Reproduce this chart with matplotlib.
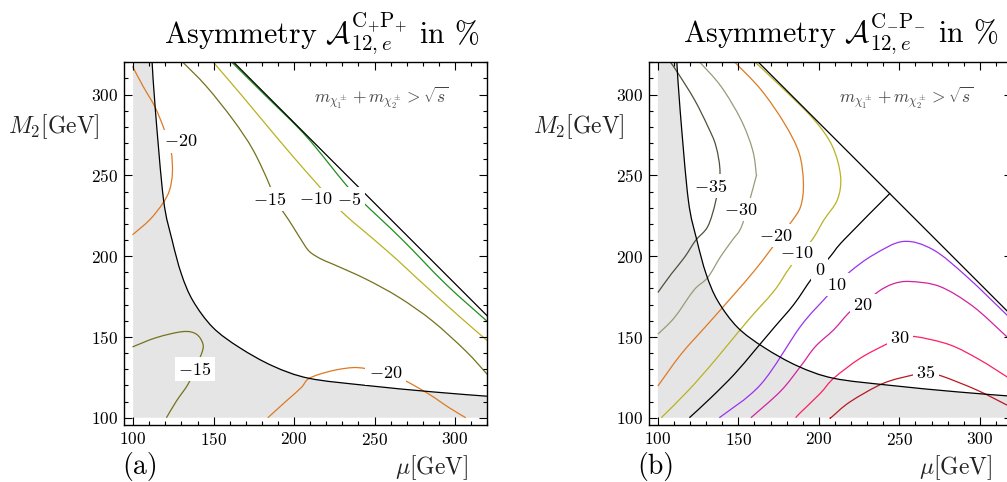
import matplotlib
matplotlib.use("Agg")
import matplotlib.pyplot as plt
from matplotlib.path import Path
from matplotlib.patches import PathPatch
import numpy as np

plt.rcParams['mathtext.fontset'] = 'cm'
plt.rcParams['font.family'] = 'serif'
plt.rcParams['font.serif'] = ['cmr10', 'DejaVu Serif']
plt.rcParams['axes.formatter.use_mathtext'] = True

# kinematic limit m_chi1 (edge of the grey region), same in both panels
kin_mu = [111.8, 113.8, 118.9, 124.2, 130.0, 137.2, 149.6, 166.1, 186.8, 209.2, 244.6, 285.9, 320.0]
kin_m2 = [320.0, 290.7, 234.9, 210.0, 188.9, 172.3, 155.8, 143.4, 132.0, 124.4, 120.0, 116.0, 113.3]
# m_chi1 + m_chi2 = sqrt(s) line
ss_mu = [162.0, 320.0]
ss_m2 = [320.5, 163.0]

# panel (a): contours of A^{C+P+}
a_m20_hi_mu = [99.6, 106.2, 113.4, 118.6, 121.5, 123.8, 124.4, 122.7, 118.6, 110.3, 99.6]
a_m20_hi_m2 = [317.5, 305.1, 292.7, 280.4, 272.0, 263.9, 251.5, 241.1, 232.9, 222.5, 213.2]
a_m15_lo_mu = [99.6, 114.5, 131.0, 139.3, 143.4, 142.4, 138.2, 134.1, 126.9, 120.7]
a_m15_lo_m2 = [143.8, 149.6, 153.3, 151.7, 145.5, 139.3, 130.0, 120.7, 110.3, 100.0]
a_m20_lo_mu = [183.7, 195.1, 204.4, 208.5, 215.7, 226.1, 236.4, 244.6, 257.0, 268.4, 283.9, 296.3, 306.6]
a_m20_lo_m2 = [100.0, 110.3, 118.6, 123.8, 126.9, 129.6, 131.0, 130.4, 127.5, 123.2, 114.5, 106.2, 100.0]
a_m15_hi_mu = [130.6, 145.5, 162.0, 174.4, 184.7, 187.0, 193.0, 199.2, 204.4, 209.5, 216.8, 224.0, 244.6, 265.3, 285.9, 306.6, 320.0]
a_m15_hi_m2 = [320.3, 305.1, 284.5, 265.9, 244.2, 235.3, 227.7, 218.4, 210.1, 202.9, 198.2, 195.1, 185.8, 174.4, 159.9, 141.3, 126.8]
a_m10_mu = [149.6, 166.1, 182.6, 199.2, 214.7, 229.8, 249.8, 264.3, 275.6, 302.5, 320.0]
a_m10_m2 = [320.3, 301.1, 281.4, 261.8, 244.2, 227.3, 210.1, 197.5, 187.0, 162.8, 147.7]
a_m5_mu = [161.0, 182.6, 207.5, 232.2, 242.2, 267.3, 294.2, 320.0]
a_m5_m2 = [320.3, 299.0, 274.2, 244.2, 233.9, 210.1, 182.7, 159.6]

a_lab_val = [-20, -15, -20, -15, -10, -5]
a_lab_mu = [129.5, 138.2, 256.7, 184.7, 213.7, 234.3]
a_lab_m2 = [271.0, 130.0, 127.5, 235.3, 235.3, 235.3]

# panel (b): contours of A^{C-P-}
b_m35_mu = [107.6, 112.4, 122.7, 131.0, 136.1, 138.6, 135.9, 131.0, 123.5, 116.5, 108.3, 100.0]
b_m35_m2 = [320.3, 313.4, 296.9, 280.4, 268.0, 251.5, 233.9, 218.4, 209.8, 199.2, 188.9, 177.5]
b_m30_mu = [125.8, 139.2, 151.6, 158.8, 161.0, 160.5, 152.4, 146.4, 139.0, 131.0, 122.5, 110.3, 100.0]
b_m30_m2 = [320.3, 305.1, 284.5, 265.9, 251.5, 247.3, 219.4, 210.1, 199.8, 186.8, 179.1, 162.0, 151.7]
b_m20_mu = [147.5, 164.0, 178.4, 187.7, 190.4, 188.7, 182.4, 170.0, 159.9, 147.5, 131.0, 114.4, 100.0]
b_m20_m2 = [320.3, 303.1, 282.5, 263.9, 245.3, 230.8, 220.5, 203.9, 190.9, 176.5, 157.9, 139.3, 119.6]
b_m10_mu = [160.2, 178.4, 197.0, 208.4, 213.5, 211.5, 203.2, 195.8, 182.4, 172.2, 155.7, 135.1, 118.6, 102.1]
b_m10_m2 = [320.3, 303.1, 284.5, 268.0, 249.4, 234.9, 222.5, 210.1, 193.6, 178.5, 159.9, 135.1, 116.5, 100.0]
b_0_mu = [244.3, 215.6, 207.1, 195.8, 184.6, 172.2, 159.9, 147.5, 133.0, 119.6]
b_0_m2 = [239.0, 210.1, 199.8, 186.4, 170.3, 155.8, 141.3, 126.9, 112.4, 100.0]
b_10_mu = [138.2, 164.0, 188.5, 204.0, 211.3, 219.5, 233.9, 252.5, 271.1, 291.8, 316.7, 320.0]
b_10_m2 = [100.0, 120.7, 156.4, 174.0, 182.2, 190.5, 200.8, 209.1, 203.9, 187.4, 163.7, 160.5]
b_20_mu = [157.8, 176.3, 188.5, 197.8, 209.2, 219.5, 227.4, 237.0, 246.3, 256.7, 275.2, 295.9, 316.7, 320.0]
b_20_m2 = [100.0, 116.5, 131.6, 144.0, 154.4, 165.7, 169.8, 178.1, 182.9, 184.3, 181.2, 168.8, 150.2, 147.5]
b_30_mu = [185.6, 188.5, 200.9, 209.2, 225.7, 243.2, 250.5, 259.8, 281.4, 300.0, 316.7, 320.0]
b_30_m2 = [100.0, 103.1, 115.1, 124.4, 136.8, 146.1, 149.2, 150.2, 145.1, 135.8, 125.4, 123.4]
b_35_mu = [207.3, 208.2, 219.5, 240.1, 258.7, 266.6, 276.3, 298.0, 316.7, 320.0]
b_35_m2 = [100.0, 100.6, 109.9, 121.3, 126.5, 127.9, 125.8, 117.2, 107.9, 106.3]

b_lab_val = [-35, -30, -20, -10, 0, 10, 20, 30, 35]
b_lab_mu = [132.8, 151.4, 173.1, 186.5, 200.6, 211.3, 227.4, 250.5, 266.6]
b_lab_m2 = [243.2, 228.7, 212.6, 201.9, 191.5, 182.2, 169.8, 149.2, 127.9]

col = {-35: '#4f4f3c', -30: '#9a9a78', -20: '#dd7a22', -15: '#74721c', -10: '#b9b222',
       -5: '#1c901c', 0: '#000000', 10: '#9b32ee', 20: '#d2229e', 30: '#fb2062', 35: '#b81820'}


def smooth_path(mu, m2):
    # Catmull-Rom through the read points, written as cubic Bezier segments
    p = np.column_stack([mu, m2])
    verts = [p[0]]
    codes = [Path.MOVETO]
    n = len(p)
    for i in range(n - 1):
        p0 = p[max(i - 1, 0)]
        p3 = p[min(i + 2, n - 1)]
        c1 = p[i] + (p[i + 1] - p0) / 6.0
        c2 = p[i + 1] - (p3 - p[i]) / 6.0
        verts += [c1, c2, p[i + 1]]
        codes += [Path.CURVE4] * 3
    return Path(verts, codes)


def setup_axes(ax):
    ax.set_xlim(94.5, 320)
    ax.set_ylim(95.5, 320)
    ax.set_xticks(np.arange(100, 301, 50))
    ax.set_yticks(np.arange(100, 301, 50))
    ax.set_xticks(np.arange(100, 321, 10), minor=True)
    ax.set_yticks(np.arange(100, 321, 10), minor=True)
    ax.tick_params(which='both', direction='in', top=True, right=True, labelsize=12.5, width=0.8)
    ax.tick_params(which='major', length=5.5, pad=4)
    ax.tick_params(which='minor', length=3)
    for s in ax.spines.values():
        s.set_linewidth(1.0)
    # grey excluded region
    ax.fill(np.r_[100, 100, kin_mu, 320], np.r_[100, 320, kin_m2, 100], color='#e5e5e5', lw=0, zorder=0)
    ax.add_patch(PathPatch(smooth_path(kin_mu, kin_m2), fill=False, edgecolor='black', lw=0.9, zorder=2))
    ax.plot(ss_mu, ss_m2, color='black', lw=0.9, zorder=2)
    ax.text(212.6, 298.0, r'$m_{\chi_1^\pm}+m_{\chi_2^\pm}>\sqrt{s}$', fontsize=12.5,
            color='#444444', ha='left', va='center')


def draw_contour(ax, mu, m2, val):
    ax.add_patch(PathPatch(smooth_path(mu, m2), fill=False, edgecolor=col[val], lw=0.9, zorder=1))


def draw_labels(ax, vals, mus, m2s):
    for v, x, y in zip(vals, mus, m2s):
        ax.text(x, y, r'$%d$' % v, fontsize=13, ha='center', va='center', zorder=3,
                bbox=dict(facecolor='white', edgecolor='none', pad=2.5))


fig = plt.figure(figsize=(10.07, 4.82), dpi=100)
ax1 = fig.add_axes([0.1234, 0.1183, 0.3605, 0.7525])
ax2 = fig.add_axes([0.6445, 0.1183, 0.3605, 0.7525])

setup_axes(ax1)
draw_contour(ax1, a_m20_hi_mu, a_m20_hi_m2, -20)
draw_contour(ax1, a_m15_lo_mu, a_m15_lo_m2, -15)
draw_contour(ax1, a_m20_lo_mu, a_m20_lo_m2, -20)
draw_contour(ax1, a_m15_hi_mu, a_m15_hi_m2, -15)
draw_contour(ax1, a_m10_mu, a_m10_m2, -10)
draw_contour(ax1, a_m5_mu, a_m5_m2, -5)
draw_labels(ax1, a_lab_val, a_lab_mu, a_lab_m2)

setup_axes(ax2)
draw_contour(ax2, b_m35_mu, b_m35_m2, -35)
draw_contour(ax2, b_m30_mu, b_m30_m2, -30)
draw_contour(ax2, b_m20_mu, b_m20_m2, -20)
draw_contour(ax2, b_m10_mu, b_m10_m2, -10)
draw_contour(ax2, b_0_mu, b_0_m2, 0)
draw_contour(ax2, b_10_mu, b_10_m2, 10)
draw_contour(ax2, b_20_mu, b_20_m2, 20)
draw_contour(ax2, b_30_mu, b_30_m2, 30)
draw_contour(ax2, b_35_mu, b_35_m2, 35)
draw_labels(ax2, b_lab_val, b_lab_mu, b_lab_m2)

# titles and axis labels
ax1.text(0.977, 1.052, r'Asymmetry $\mathcal{A}_{12,e}^{\mathrm{C}_{+}\mathrm{P}_{+}}$ in %',
         transform=ax1.transAxes, fontsize=21.5, ha='right', va='baseline')
ax2.text(0.963, 1.052, r'Asymmetry $\mathcal{A}_{12,e}^{\mathrm{C}_{-}\mathrm{P}_{-}}$ in %',
         transform=ax2.transAxes, fontsize=21.5, ha='right', va='baseline')
for xl, xr, xt, tag in [(8, 468, 122, '(a)'), (533, 992, 637, '(b)')]:
    fig.text(xl / 1007, (482 - 133) / 482, r'$M_2$[GeV]', fontsize=17, ha='left', va='baseline', color='#222222')
    fig.text(xr / 1007, (482 - 474) / 482, r'$\mu$[GeV]', fontsize=17, ha='right', va='baseline', color='#222222')
    fig.text(xt / 1007, (482 - 474) / 482, tag, fontsize=20, ha='left', va='baseline')

fig.savefig('out.png', dpi=100)
